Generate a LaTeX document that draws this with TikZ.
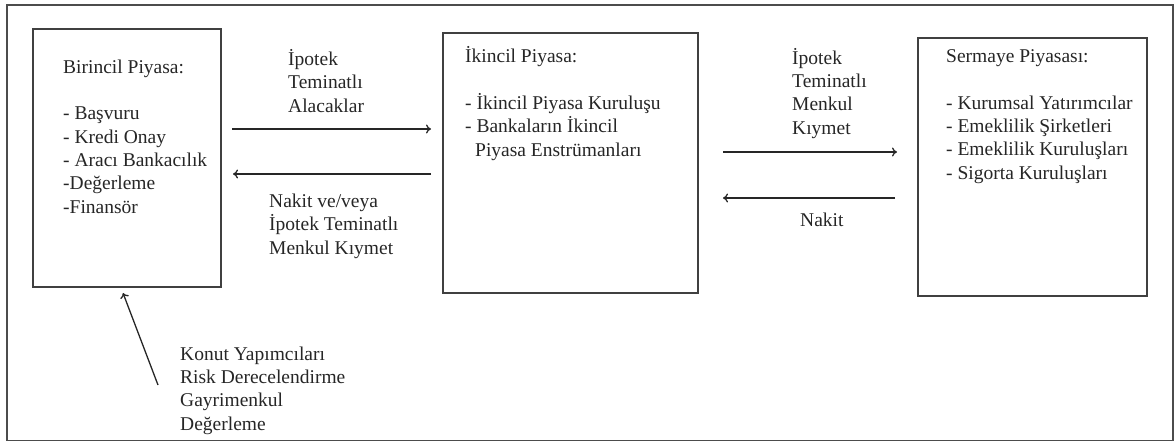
\documentclass[tikz,border=0pt]{standalone}
\usepackage{fontspec}
\setmainfont{Liberation Serif}
\usetikzlibrary{positioning,arrows.meta}

\tikzset{
  market/.style={draw=black!75, line width=1.6pt, minimum width=#1},
  txt/.style={anchor=base west, inner sep=0pt, align=left, text=black!85,
    font=\fontsize{19.5}{23.3}\selectfont},
  flow/.style={-{To[length=5pt,width=9pt]}, line width=1.3pt, black!85}
}

\begin{document}
\begin{tikzpicture}[x=1pt,y=-1pt]
\useasboundingbox (0,0) rectangle (1175,442);
\draw[black!70, line width=1.6pt] (7,5) rectangle (1173,440.5);

% the three markets
\node[market=188pt, minimum height=258pt] (birincil) at (127,158) {};
\node[market=255pt, minimum height=260pt] (ikincil) at (570.5,163) {};
\node[market=229pt, minimum height=258pt] (sermaye) at (1032.5,167) {};

% base of a text block = baseline of its last line
\node[txt] (birincilyazi) at (63,213) {Birincil Piyasa:\\[23.3pt]
  - Başvuru\\ - Kredi Onay\\ - Aracı Bankacılık\\ -Değerleme\\ -Finansör};
\node[txt] (ikincilyazi) at (465,156) {İkincil Piyasa:\\[23.3pt]
  - İkincil Piyasa Kuruluşu\\ - Bankaların İkincil\\ \hspace{10pt}Piyasa Enstrümanları};
\node[txt] (sermayeyazi) at (946,179) {Sermaye Piyasası:\\[23.3pt]
  - Kurumsal Yatırımcılar\\ - Emeklilik Şirketleri\\ - Emeklilik Kuruluşları\\ - Sigorta Kuruluşları};

% flows between markets
\coordinate (a1s) at (232,129); \coordinate (a1e) at (431,129);
\coordinate (a2s) at (431,174); \coordinate (a2e) at (233,174);
\coordinate (a3s) at (723,152); \coordinate (a3e) at (897,152);
\coordinate (a4s) at (895,198); \coordinate (a4e) at (723,198);
\coordinate (a5s) at (158,385); \coordinate (a5e) at (123,293);
\draw[flow] (a1s) -- (a1e);
\draw[flow] (a2s) -- (a2e);
\draw[flow] (a3s) -- (a3e);
\draw[flow] (a4s) -- (a4e);
\draw[flow] (a5s) -- (a5e);

\node[txt] (alacak) at (288,112) {İpotek\\ Teminatlı\\ Alacaklar};
\node[txt] (nakit1) at (269,254) {Nakit ve/veya\\ İpotek Teminatlı\\ Menkul Kıymet};
\node[txt] (menkul) at (792,134) {İpotek\\ Teminatlı\\ Menkul\\ Kıymet};
\node[txt] (nakit2) at (800,226) {Nakit};
\node[txt] (konut) at (180,430) {Konut Yapımcıları\\ Risk Derecelendirme\\ Gayrimenkul\\ Değerleme};
\end{tikzpicture}
\end{document}
